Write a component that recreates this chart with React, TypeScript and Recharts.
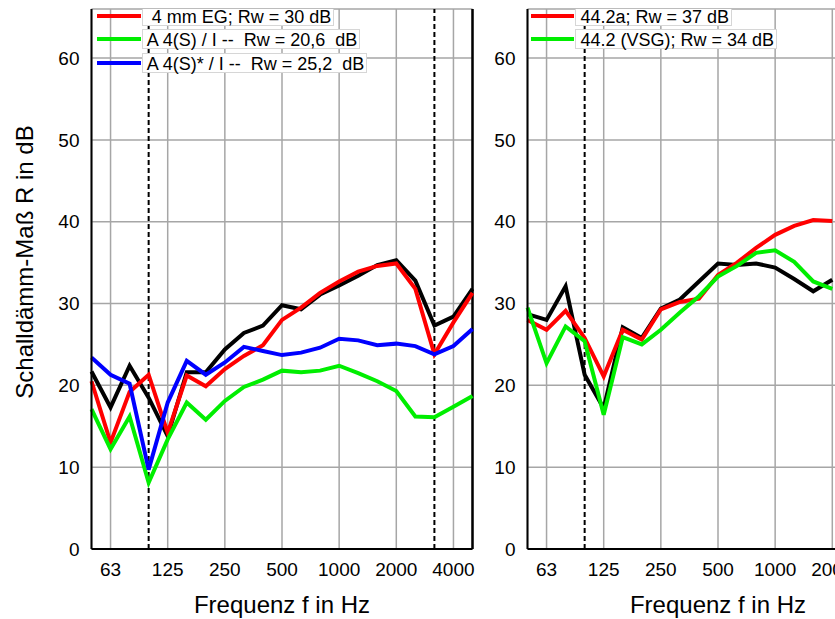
import { CartesianGrid, Label, Line, LineChart, ReferenceLine, XAxis, YAxis } from "recharts"

// third-octave band centre frequencies (Hz)
const frequencies = [
  "50", "63", "80", "100", "125", "160", "200", "250", "315", "400", "500",
  "630", "800", "1000", "1250", "1600", "2000", "2500", "3150", "4000", "5000",
]
const tickFrequencies = ["63", "125", "250", "500", "1000", "2000", "4000"]
const markerFrequencies = ["100", "3150"]
const yTicks = [0, 10, 20, 30, 40, 50, 60]

// left panel
const leftBlack = [21.7, 17.3, 22.4, 18.5, 13.8, 21.6, 21.6, 24.4, 26.4, 27.3, 29.8, 29.3, 31.1, 32.2, 33.4, 34.7, 35.3, 32.8, 27.3, 28.4, 31.8]
const leftRed = [20.5, 13.0, 19.2, 21.3, 14.2, 21.2, 19.9, 22.0, 23.6, 24.9, 28.0, 29.5, 31.3, 32.7, 33.9, 34.6, 34.9, 31.8, 23.8, 27.7, 31.3]
const leftGreen = [17.1, 12.2, 16.2, 8.1, 13.4, 17.9, 15.8, 18.1, 19.8, 20.7, 21.8, 21.6, 21.8, 22.4, 21.5, 20.5, 19.3, 16.2, 16.1, 17.4, 18.7]
const leftBlue = [23.4, 21.3, 20.2, 9.7, 17.9, 23.0, 21.3, 22.8, 24.7, 24.2, 23.7, 24.0, 24.6, 25.7, 25.5, 24.9, 25.1, 24.8, 23.8, 24.8, 26.9]

// right panel (only read up to 2000 Hz, the rest is cut off)
const rightBlack = [28.7, 28.0, 32.1, 21.3, 17.2, 27.1, 25.8, 29.4, 30.5, 32.7, 34.9, 34.7, 34.9, 34.4, 33.0, 31.5, 32.9]
const rightRed = [28.0, 26.8, 29.1, 25.8, 21.1, 26.8, 25.6, 29.3, 30.2, 30.6, 33.5, 35.0, 36.8, 38.4, 39.5, 40.2, 40.1]
const rightGreen = [29.5, 22.7, 27.2, 25.4, 16.4, 25.9, 25.0, 26.8, 28.9, 30.9, 33.3, 34.6, 36.2, 36.5, 35.1, 32.7, 31.8]

const leftLegend = [
  { label: " 4 mm EG; Rw = 30 dB", color: "#ff0000" },
  { label: "A 4(S) / I --  Rw = 20,6  dB", color: "#00ee00" },
  { label: "A 4(S)* / I --  Rw = 25,2  dB", color: "#0000ff" },
]
const rightLegend = [
  { label: "44.2a; Rw = 37 dB", color: "#ff0000" },
  { label: "44.2 (VSG); Rw = 34 dB", color: "#00ee00" },
]

const FONT = '"Liberation Sans", Arial, Helvetica, sans-serif'
const PLOT_LEFT = 91.5
const PLOT_TOP = 9
const PLOT_W = 381
const PLOT_H = 540

type Series = { key: string; values: number[]; color: string }
type LegendItem = { label: string; color: string }

function buildRows(series: Series[]) {
  return frequencies.map((f, i) => {
    const row: Record<string, number | string | null> = { idx: i, f }
    series.forEach((s) => {
      row[s.key] = i < s.values.length ? s.values[i] : null
    })
    return row
  })
}

function Panel({
  left,
  series,
  legend,
  legendX,
  showYTitle,
}: {
  left: number
  series: Series[]
  legend: LegendItem[]
  legendX: number
  showYTitle: boolean
}) {
  const data = buildRows(series)
  const rowTops = [-3.5, 20, 43.5]

  return (
    <div style={{ position: "absolute", left, top: 0, width: 480, height: 619 }}>
      <LineChart width={480} height={619} data={data} margin={{ top: PLOT_TOP, right: 480 - PLOT_LEFT - PLOT_W, bottom: 0, left: 0 }}>
        <CartesianGrid stroke="#a6a6a6" strokeWidth={1.5} />
        <XAxis
          type="number"
          dataKey="idx"
          domain={[0, frequencies.length - 1]}
          ticks={tickFrequencies.map((f) => frequencies.indexOf(f))}
          tickFormatter={(v: number) => frequencies[v]}
          interval={0}
          height={619 - PLOT_TOP - PLOT_H}
          axisLine={{ stroke: "#000", strokeWidth: 2 }}
          tickLine={false}
          tickSize={0}
          tickMargin={14}
          tick={{ fill: "#000", fontSize: 19 }}
        >
          <Label value="Frequenz f in Hz" position="insideBottom" offset={6} fontSize={24} fill="#000" />
        </XAxis>
        <YAxis
          width={PLOT_LEFT}
          domain={[0, 66]}
          ticks={yTicks}
          interval={0}
          axisLine={{ stroke: "#000", strokeWidth: 2 }}
          tickLine={false}
          tickSize={0}
          tickMargin={12}
          tick={{ fill: "#000", fontSize: 19 }}
        >
          {showYTitle && (
            <Label
              content={() => (
                <text x={33} y={262} transform="rotate(-90 33 262)" textAnchor="middle" fontSize={24} fill="#000">
                  Schalldämm-Maß R in dB
                </text>
              )}
            />
          )}
        </YAxis>
        {markerFrequencies.map((f) => (
          <ReferenceLine key={f} x={frequencies.indexOf(f)} stroke="#000" strokeWidth={2} strokeDasharray="5 3" />
        ))}
        <ReferenceLine x={frequencies.length - 1} stroke="#000" strokeWidth={2.5} />
        {series.map((s) => (
          <Line
            key={s.key}
            dataKey={s.key}
            type="linear"
            stroke={s.color}
            strokeWidth={4}
            dot={false}
            activeDot={false}
            isAnimationActive={false}
          />
        ))}
      </LineChart>

      <div style={{ position: "absolute", left: PLOT_LEFT, top: PLOT_TOP, width: PLOT_W, height: PLOT_H, overflow: "hidden" }}>
        {legend.map((item, i) => (
          <div key={item.label}>
            <div
              style={{
                position: "absolute",
                left: legendX,
                top: rowTops[i] + 8,
                width: 43.5,
                height: 4,
                background: item.color,
              }}
            />
            <div
              style={{
                position: "absolute",
                left: legendX + 44.5,
                top: rowTops[i],
                height: 18,
                lineHeight: "20px",
                fontSize: 18,
                padding: "0 2px 0 4px",
                border: "1px solid #d6d6d6",
                background: "#fff",
                whiteSpace: "pre",
                color: "#000",
              }}
            >
              {item.label}
            </div>
          </div>
        ))}
      </div>
    </div>
  )
}

export default function App() {
  return (
    <div
      style={{
        position: "absolute",
        left: 0,
        top: 0,
        width: 835,
        height: 619,
        overflow: "hidden",
        background: "#fff",
        fontFamily: FONT,
      }}
    >
      <Panel
        left={0}
        legendX={5.8}
        showYTitle
        legend={leftLegend}
        series={[
          { key: "black", values: leftBlack, color: "#000000" },
          { key: "red", values: leftRed, color: "#ff0000" },
          { key: "green", values: leftGreen, color: "#00ee00" },
          { key: "blue", values: leftBlue, color: "#0000ff" },
        ]}
      />
      <Panel
        left={527.3 - PLOT_LEFT}
        legendX={3.7}
        showYTitle={false}
        legend={rightLegend}
        series={[
          { key: "black", values: rightBlack, color: "#000000" },
          { key: "red", values: rightRed, color: "#ff0000" },
          { key: "green", values: rightGreen, color: "#00ee00" },
        ]}
      />
    </div>
  )
}
